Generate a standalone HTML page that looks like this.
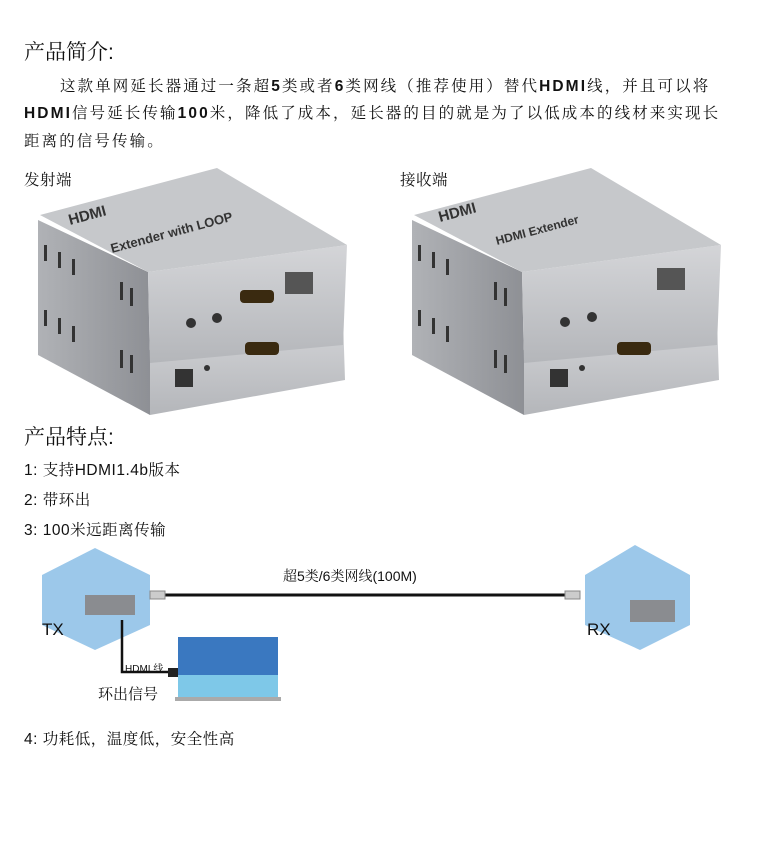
<!DOCTYPE html>
<html><head><meta charset="utf-8"><style>
body{margin:0;width:764px;height:841px;background:#fff;position:relative;overflow:hidden;font-family:"Liberation Sans","Noto Serif CJK SC",serif;color:#111}
.t{position:absolute;white-space:nowrap}
.h{font-size:21px}
.p{font-size:15.5px;letter-spacing:2.1px}
.q{font-size:15.5px;letter-spacing:0.5px}
</style></head><body>
<div class="t h" style="left:24px;top:36px">产品简介:</div>
<div class="t p" style="left:60px;top:74px">这款单网延长器通过一条超<b>5</b>类或者<b>6</b>类网线（推荐使用）替代<b>HDMI</b>线，并且可以将</div>
<div class="t p" style="left:24px;top:101px"><b>HDMI</b>信号延长传输<b>100</b>米，降低了成本，延长器的目的就是为了以低成本的线材来实现长</div>
<div class="t p" style="left:24px;top:129px">距离的信号传输。</div>
<div class="t q" style="left:24px;top:168px">发射端</div>
<div class="t q" style="left:400px;top:168px">接收端</div>

<svg style="position:absolute;left:0;top:0" width="764" height="841">
<defs>
<linearGradient id="f" x1="0" y1="0" x2="0" y2="1"><stop offset="0" stop-color="#d4d5d8"/><stop offset="1" stop-color="#b4b6ba"/></linearGradient>
<linearGradient id="s" x1="0" y1="0" x2="1" y2="0"><stop offset="0" stop-color="#b0b2b6"/><stop offset="1" stop-color="#8e9095"/></linearGradient>
<g id="dev">
<!-- bottom unit -->
<polygon points="38,285 150,350 150,415 38,355" fill="url(#s)"/>
<polygon points="150,350 343,318 345,380 150,415" fill="url(#f)"/>
<!-- top unit -->
<polygon points="38,220 148,272 150,363 38,300" fill="url(#s)"/>
<polygon points="148,272 347,245 343,345 150,363" fill="url(#f)"/>
<polygon points="40,215 217,168 347,245 148,272" fill="#c6c8cb"/>
<g fill="#333">
<rect x="44" y="245" width="3" height="16"/><rect x="58" y="252" width="3" height="16"/><rect x="72" y="259" width="3" height="16"/>
<rect x="44" y="310" width="3" height="16"/><rect x="58" y="318" width="3" height="16"/><rect x="72" y="326" width="3" height="16"/>
<rect x="120" y="282" width="3" height="18"/><rect x="130" y="288" width="3" height="18"/><rect x="120" y="350" width="3" height="18"/><rect x="130" y="355" width="3" height="18"/>
</g>
</g>
</defs>
<use href="#dev"/>
<use href="#dev" transform="translate(374,0)"/>
<g font-family="Liberation Sans" font-weight="bold" fill="#333">
<text x="70" y="225" font-size="15" transform="rotate(-15 70 225)">HDMI</text>
<text x="112" y="253" font-size="13" transform="rotate(-15 112 253)">Extender with LOOP</text>
<text x="440" y="222" font-size="15" transform="rotate(-15 440 222)">HDMI</text>
<text x="497" y="245" font-size="12" transform="rotate(-15 497 245)">HDMI Extender</text>
</g>
<g fill="#333">
<rect x="285" y="272" width="28" height="22" fill="#555"/>
<rect x="240" y="290" width="34" height="13" rx="4" fill="#3a2a10"/>
<circle cx="191" cy="323" r="5"/><circle cx="217" cy="318" r="5"/>
<rect x="245" y="342" width="34" height="13" rx="4" fill="#3a2a10"/>
<rect x="175" y="369" width="18" height="18"/>
<circle cx="207" cy="368" r="3"/>
<rect x="657" y="268" width="28" height="22" fill="#555"/>
<circle cx="565" cy="322" r="5"/><circle cx="592" cy="317" r="5"/>
<rect x="617" y="342" width="34" height="13" rx="4" fill="#3a2a10"/>
<rect x="550" y="369" width="18" height="18"/>
<circle cx="582" cy="368" r="3"/>
</g>
<!-- diagram -->
<polygon points="42,575 95,548 150,575 150,625 95,650 42,625" fill="#9cc8ea"/>
<polygon points="585,575 635,545 690,575 690,625 640,650 585,625" fill="#9cc8ea"/>
<rect x="85" y="595" width="50" height="20" fill="#8a8c90"/>
<rect x="630" y="600" width="45" height="22" fill="#8a8c90"/>
<line x1="165" y1="595" x2="565" y2="595" stroke="#111" stroke-width="3"/>
<rect x="150" y="591" width="15" height="8" fill="#ccc" stroke="#888"/>
<rect x="565" y="591" width="15" height="8" fill="#ccc" stroke="#888"/>
<path d="M122,620 V672 H170" fill="none" stroke="#111" stroke-width="2.5"/>
<rect x="168" y="668" width="10" height="9" fill="#222"/>
<rect x="178" y="637" width="100" height="60" fill="#3a78c0"/>
<rect x="178" y="675" width="100" height="22" fill="#7ec8e8"/>
<rect x="175" y="697" width="106" height="4" fill="#aaa"/>
</svg>

<div class="t" style="left:42px;top:620px;font-size:17px">TX</div>
<div class="t" style="left:587px;top:620px;font-size:17px">RX</div>
<div class="t" style="left:283px;top:566px;font-size:14px">超5类/6类网线(100M)</div>
<div class="t" style="left:125px;top:660px;font-size:10px">HDMI 线</div>
<div class="t" style="left:98px;top:683px;font-size:15px">环出信号</div>

<div class="t h" style="left:24px;top:421px">产品特点:</div>
<div class="t q" style="left:24px;top:458px">1: 支持HDMI1.4b版本</div>
<div class="t q" style="left:24px;top:488px">2: 带环出</div>
<div class="t q" style="left:24px;top:518px">3: 100米远距离传输</div>
<div class="t q" style="left:24px;top:727px">4: 功耗低，温度低，安全性高</div>
</body></html>
